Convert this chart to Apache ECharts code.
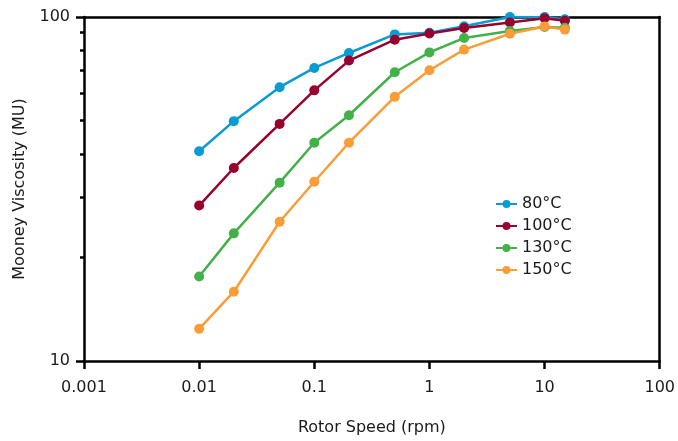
<!DOCTYPE html>
<html>
<head>
<meta charset="utf-8">
<script src="https://cdn.jsdelivr.net/npm/echarts@6/dist/echarts.min.js"></script>
<style>
html,body{margin:0;padding:0;background:#fff;}
#chart{width:678px;height:441px;}
</style>
</head>
<body>
<div id="chart"></div>
<script>
var rotorSpeed = [0.01, 0.02, 0.05, 0.1, 0.2, 0.5, 1, 2, 5, 10, 15];
var seriesNames = ['80°C', '100°C', '130°C', '150°C'];
var visc80 = [40.7, 49.8, 62.5, 71.1, 78.6, 89.0, 90.0, 94.0, 100, 100, 98.5];
var visc100 = [28.3, 36.4, 48.9, 61.2, 74.7, 85.9, 89.5, 92.9, 96.4, 99.2, 97.5];
var visc130 = [17.6, 23.5, 33.0, 43.1, 51.8, 69.1, 78.9, 86.9, 91.0, 93.5, 93.0];
var visc150 = [12.4, 15.9, 25.4, 33.2, 43.1, 58.6, 70.0, 80.4, 89.4, 93.9, 91.9];
var xRange = [0.001, 100];
var yRange = [10, 100];

var colors = ['#0a9bd0', '#98002e', '#43b04a', '#f99d38'];
var font = 'DejaVu Sans';

function pairs(vals) {
  return rotorSpeed.map(function (x, i) { return [x, vals[i]]; });
}
var allVals = [visc80, visc100, visc130, visc150];
var hiddenSplit = {show: true, lineStyle: {color: 'rgba(0,0,0,0)', width: 0}};

function borderAxis(pos, range) {
  return {
    type: 'log', min: range[0], max: range[1], position: pos,
    axisLine: {show: true, lineStyle: {color: '#000', width: 2.5}},
    axisTick: {show: false}, axisLabel: {show: false},
    splitLine: hiddenSplit, minorTick: {show: false}
  };
}

var chart = echarts.init(document.getElementById('chart'));
chart.setOption({
  animation: false,
  color: colors,
  grid: {left: 84, right: 18, top: 17, bottom: 79},
  legend: {
    orient: 'vertical',
    left: 490, top: 189,
    itemWidth: 21, itemHeight: 10, itemGap: 2,
    textStyle: {fontFamily: font, fontSize: 16, color: '#1a1a1a', lineHeight: 20},
    data: seriesNames
  },
  xAxis: [{
    type: 'log', min: xRange[0], max: xRange[1], position: 'bottom',
    name: 'Rotor Speed (rpm)', nameLocation: 'middle', nameGap: 59,
    nameTextStyle: {fontFamily: font, fontSize: 16, color: '#1a1a1a'},
    axisLine: {show: true, lineStyle: {color: '#000', width: 2.5}},
    axisTick: {show: true, length: 8, lineStyle: {width: 2.5, color: '#000'}},
    axisLabel: {fontFamily: font, fontSize: 16, color: '#1a1a1a', margin: 19,
      formatter: function (v) { return String(v); }},
    splitLine: hiddenSplit
  }, borderAxis('top', xRange)],
  yAxis: [{
    type: 'log', min: yRange[0], max: yRange[1], position: 'left',
    name: 'Mooney Viscosity (MU)', nameLocation: 'middle', nameGap: 56,
    nameTextStyle: {fontFamily: font, fontSize: 16, color: '#1a1a1a'},
    axisLine: {show: true, lineStyle: {color: '#000', width: 2.5}},
    axisTick: {show: true, length: 8, lineStyle: {width: 2.5, color: '#000'}},
    minorTick: {show: true, splitNumber: 9, length: 4, lineStyle: {width: 2.5, color: '#000'}},
    axisLabel: {fontFamily: font, fontSize: 16, color: '#1a1a1a', margin: 14},
    splitLine: hiddenSplit
  }, borderAxis('right', yRange)],
  series: allVals.map(function (vals, i) {
    return {
      name: seriesNames[i], type: 'line', xAxisIndex: 0, yAxisIndex: 0,
      data: pairs(vals),
      symbol: 'circle', symbolSize: 10, showSymbol: true,
      lineStyle: {width: 2.5},
      itemStyle: {color: colors[i]}
    };
  })
});
</script>
</body>
</html>
